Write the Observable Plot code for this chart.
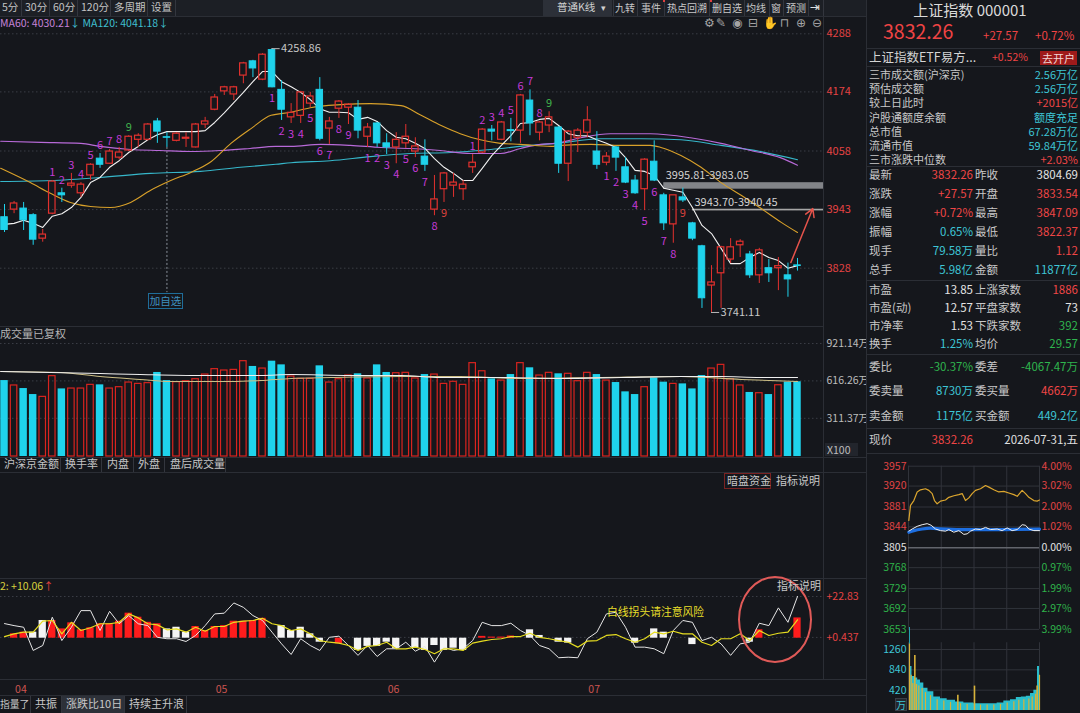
<!DOCTYPE html>
<html lang="zh-CN">
<head>
<meta charset="utf-8">
<title>上证指数 000001 日K</title>
<script src="https://cdn.jsdelivr.net/npm/d3@7"></script>
<script src="https://cdn.jsdelivr.net/npm/@observablehq/plot@0.6"></script>
<style>
html,body{margin:0;padding:0;background:#15171c;overflow:hidden;}
#root{position:relative;width:1080px;height:713px;overflow:hidden;background:#15171c;font-family:"Noto Sans CJK SC","Noto Sans",sans-serif;color:#c8c8c8;}
.a{position:absolute;white-space:nowrap;}
svg{display:block;overflow:visible;}
</style>
</head>
<body>
<div id="root"></div>
<script>
// ------------------------------------------------------------------ data
const candleOpen  = [3928,3943,3945,3932,3886,3935,3975,3990,3975,4010, 4043,4033,4045,4059,4080,4080,4116,4085,4078,4082, 4065,4110,4139,4175,4169,4206,4234,4198,4256,4178, 4124,4127,4151,4178,4102,4141,4143,4143,4086,4112, 4073,4065,4073,4057,4047,3943,3983,3990,3983,4026, 4055,4100,4080,4099,4098,4157,4094,4108,4104,4033, 4084,4094,4057,4035,4065,4026,4000,3983,4037,3971, 3914,3967,3916,3871,3794,3818,3845,3873,3855,3814, 3828,3828,3814,3833.54];
const candleHigh  = [3953,3959,3957,3935,3904,4000,3985,4014,3996,4033, 4053,4061,4065,4088,4092,4112,4122,4094,4094,4094, 4112,4124,4169,4185,4185,4232,4236,4249,4258.86,4196, 4151,4175,4173,4202,4124,4157,4151,4157,4112,4114, 4092,4094,4110,4084,4080,4010,4016,4014,4000,4051, 4102,4108,4116,4122,4169,4178,4116,4135,4106,4098, 4102,4145,4096,4055,4067,4045,4010,4043,4078,3975, 3971,3985,3918,3873,3833,3871,3886,3884,3861,3867, 3845,3849,3838,3847.09];
const candleLow   = [3898,3935,3902,3873,3879,3933,3957,3985,3967,4000, 4024,4032,4041,4057,4065,4078,4073,4065,4076,4065, 4064,4102,4137,4167,4157,4190,4202,4196,4182,4118, 4112,4112,4143,4078,4071,4122,4110,4082,4065,4065, 4051,4033,4063,4045,4018,3931,3957,3967,3961,4014, 4053,4078,4078,4076,4073,4088,4078,4094,4014,3998, 4055,4084,4022,4029,4018,3994,3973,3941,3998,3902, 3877,3957,3882,3749,3741.11,3749,3837,3849,3808,3798, 3800,3784,3771,3822.37];
const candleClose = [3903,3955,3922,3884,3894,3998,3971,3994,3992,4031, 4031,4057,4055,4086,4088,4110,4096,4084,4092,4084, 4110,4116,4163,4183,4183,4230,4220,4247,4183,4139, 4133,4173,4165,4082,4116,4155,4149,4098,4104,4073, 4065,4080,4086,4067,4031,3963,4014,3996,3992,4035, 4100,4096,4114,4097,4167,4112,4114,4124,4033,4096, 4098,4118,4031,4047,4045,3996,3975,4041,4000,3916, 3971,3961,3886,3769,3800,3869,3869,3880,3814,3863, 3818,3832,3806,3832.26];
const ma5 = [3914,3916,3922,3916,3908,3930,3935,3947,3967,3996, 4006,4026,4039,4055,4067,4080,4090,4096,4096,4096, 4096,4098,4114,4133,4153,4173,4194,4214,4214,4194, 4184,4173,4159,4141,4134,4134,4133,4120,4124,4116, 4098,4085,4082,4073,4063,4043,4026,4014,4000,4000, 4024,4049,4069,4088,4112,4114,4120,4122,4108,4092, 4088,4088,4080,4073,4065,4045,4020,4018,4010,3985, 3981,3977,3947,3912,3896,3867,3837,3837,3849,3859, 3849,3843,3828,3833];
const ma20Idx = [0.6,3.7,5.8,7.9,10,12.1,14.2,16.3,18.4,20.5,22.6,24.7,26.8,28.9,31,33,36.2,39.3,42.5,44.6,46.7,48.7,50.8,52.9,55,58.2,59.2,62.4,65.5,68.6,69.7,71.8,73.9,76,78.1,80.2,82.3,84];
const ma20Val = [4024,3996,3975,3957,3949,3947,3957,3981,4000,4016,4037,4073,4102,4128,4134,4143,4149,4151,4147,4128,4108,4092,4080,4073,4071,4067,4069,4071,4069,4069,4065,4049,4026,3996,3971,3945,3918,3898];
const ma60Idx = [0.6,4.8,9,11,14.2,17.3,20.5,23.6,26.7,29.4,31,34.1,37.2,40.4,43.5,46.6,49.8,52.9,55,57.1,58.7,61.3,64.4,68.6,72.8,76,79.1,82.2,84];
const ma60Val = [4077,4075,4073,4067,4061,4059,4057,4059,4063,4067,4067,4071,4069,4065,4063,4059,4053,4053,4063,4071,4073,4084,4092,4092,4084,4073,4059,4045,4030];
const ma120Idx = [0.6,5.8,11,16.3,21.5,25.7,29.4,31,35.1,39.3,43.5,47.7,51.9,56.1,58.7,63.4,67.6,71.8,76,80.1,84];
const ma120Val = [3998,4000,4006,4014,4018,4026,4032,4035,4039,4047,4053,4055,4061,4069,4073,4082,4082,4080,4069,4057,4041];
const priceTicks = [4288, 4174, 4058, 3943, 3828];

const volume = [619,579,554,505,486,655,551,554,554,584, 584,554,565,603,592,598,685,619,606,614, 630,668,712,701,706,777,734,717,777,747, 652,633,633,739,603,630,660,674,636,747, 685,679,682,636,668,668,592,609,584,761, 695,633,619,668,761,723,660,682,674,674, 614,682,668,619,603,527,505,565,641,606, 592,592,551,660,717,747,630,579,522,516, 505,581,606,609];
const volMaWhiteIdx = [0.6,11,15.2,21.5,27.8,31,37.2,42.5,46.6,52.9,59.2,65.5,71.8,76,80.1,84];
const volMaWhiteVal = [693,676,668,660,660,668,660,660,644,644,636,644,652,652,644,644];
const volMaBeigeIdx = [0.6,6.9,11,15.2,18.4,24.7,27.8,31,35.2,42.5,48.7,55,63.4,71.8,78.1,84];
const volMaBeigeVal = [693,685,652,628,611,611,619,636,644,652,652,636,644,652,628,611];
const volTicks = [921.14, 616.26, 311.37];

const ratioBar = [0,2.4,3.3,3.3,9.7,9.7,5.1,8.4,4.6,5.7, 7.9,7.9,9.3,13.7,11.5,8.7,7.9,5.1,6.0,3.3, 6.4,4.2,6.4,6.9,9.3,9.3,9.7,10.9,0,6.9, 4.2,6.0,2.4,-2.2,0,-3.1,0,-6.7,-4.5,-4.5, -2.2,-5.8,0,-5.2,-6.7,-4.0,-6.7,-5.5,-6.7,0, 1.0,0.6,0.6,1.2,0,4.6,1.5,0,-2.2,-2.7, 0,0,0,0,0,0,-2.7,0,5.1,3.3, 0,0,-3.5,0,0,0,0,0,-2.2,4.6, 0,0,0,11.1];
const ratioTone = ["w","r","r","w","w","r","r","r","r","r", "r","r","r","r","r","r","r","w","w","w", "r","r","r","r","r","r","r","r","w","w", "w","w","w","w","w","r","w","w","w","w", "w","w","w","w","w","w","w","w","w","w", "r","r","r","r","w","w","w","w","w","w", "w","w","w","w","w","w","w","w","w","w", "w","w","w","w","w","w","w","w","w","r", "w","w","w","r"];
const ratioWhite = [8.0,6.9,6.0,-6.7,-4.0,11.5,-1.3,6.0,15.1,15.1, 4.2,14.7,7.9,12.4,7.9,6.9,0.5,-0.3,-0.3,-1.8, 1.5,6.9,13.3,13.7,19.3,16.9,12.4,9.7,3.3,-3.1, -8.9,-0.3,-4.0,-6.7,0.5,1.1,-4.0,-9.4,-4.0,-10.0, -5.8,-5.8,-2.2,-7.1,-4.5,-13.1,-4.9,-6.7,-5.8,-1.3, 8.7,6.9,6.9,8.2,4.2,1.5,-4.0,-5.8,-10.7,-10.4, -10.7,-0.3,3.3,13.3,14.2,6.0,-4.9,-4.9,-5.8,-8.5, 4.2,9.7,8.7,-1.3,0.5,-3.1,-9.4,-3.1,-2.2,8.2, 6.9,16.6,8.7,22.83];
const ratioYellow = [0.9,2.4,3.3,3.3,9.3,9.7,2.4,8.7,4.2,5.7, 7.9,7.9,8.7,13.3,11.1,7.9,7.3,4.6,5.1,3.3, 6.0,3.8,6.4,6.4,8.7,9.3,9.7,10.9,7.9,6.9, 4.2,5.1,2.4,-1.3,-2.2,-2.7,-4.0,-6.7,-4.5,-4.0, -2.2,-5.8,-5.8,-4.9,-6.2,-8.5,-5.8,-5.8,-6.7,-2.7, -1.6,-0.7,-0.3,0.9,0.9,2.7,0.5,-0.3,-1.3,-2.2, -4.9,-1.6,-1.3,1.5,2.0,-0.3,-2.2,-0.3,3.3,2.4, 3.8,2.4,2.4,-2.2,-4.0,-0.3,-0.3,2.4,-1.3,4.2, 1.5,2.7,3.3,10.06];
const ratioTicks = [22.83, 0.437];
const monthLabels = ["04", "05", "06", "07"];
const monthStart = [2, 23, 41, 62];

const tdStart = [6, 29, 39, 50, 64];
const tdSide = ["above", "below", "below", "above", "below"];
const tdNineTone = ["#41b14c", "#c53bd8", "#d9423c", "#41b14c", "#d9423c"];
const extremeIdx = [29, 75];
const extremeVal = [4258.86, 3741.11];
const gapFrom = [70, 73];
const gapTop = [3995.81, 3943.70];
const gapBottom = [3983.05, 3940.45];

const miniMin   = [0.6,3.7,9.8,15.9,22,31.1,37.3,43.4,47.6,52.5,58.6,67.8,73.9,83.1,92.2,98.3,104.4,110.5,116.6,122.7,131.9,141.1,147.2,156.3,165.5,174.7,183.8,193,199.1,208.2,214.4,220.5,229.6,235.7,240];
const miniPrice = [3856,3884,3893,3909,3913,3915,3912,3906,3893,3887,3892,3894,3899,3902,3904,3906,3893,3898,3906,3912,3915,3921,3918,3913,3909,3910,3907,3904,3901,3912,3906,3899,3893,3892,3894];
const miniWhiteMin = [0.6,6.7,15.9,25,34.2,41.5,49.5,58.6,67.8,73.9,83.1,92.2,101.4,107.5,113.6,122.7,131.9,141.1,150.2,162.4,171.6,180.8,189.9,199.1,208.2,214.4,220.5,229.6,240];
const miniWhiteVal = [3836,3840,3845,3848,3850,3847,3840,3837,3836,3839,3834,3837,3830,3831,3836,3840,3839,3843,3839,3840,3837,3842,3837,3839,3848,3847,3840,3837,3837];
const miniBlueMin = [0.6,9.8,25,40.3,58.6,95.3,156.3,240];
const miniBlueVal = [3834,3837,3840,3841.5,3840.3,3839,3839,3839.7];
const miniVolMin = [1.8,4.9,7.9,11.6,14.7,18.9,25,31.1,40.3,52.5,64.7,77,90.4,95.3,107.5,120.9,131.9,144.1,156.3,168.5,180.8,193,202.1,211.3,220.5,226.6,232.7,235.7,240];
const miniVolVal = [1715,909,700,1134,672,630,567,462,385,280,245,210,315,175,154,504,140,140,140,154,196,224,266,280,294,350,420,504,910];
const miniVolTone = ["c","c","c","y","c","c","c","c","c","c","c","c","y","c","c","y","c","c","c","c","c","c","c","c","c","c","c","y","c"];
const miniPriceTicks = [3957, 3920, 3881, 3844, 3805, 3768, 3729, 3692, 3653];
const miniPctLabels = ["4.00%", "3.02%", "2.00%", "1.02%", "0.00%", "0.97%", "1.99%", "2.97%", "3.99%"];
const miniBase = 3805;
const miniVolTicks = [1260, 840, 420];
const miniGridMin = [0, 60, 120, 180, 240];

const quoteLabels = ["三市成交额(沪深京)", "预估成交额", "较上日此时", "沪股通额度余额", "总市值", "流通市值", "三市涨跌中位数"];
const quoteValues = ["2.56万亿", "2.56万亿", "+2015亿", "额度充足", "67.28万亿", "59.84万亿", "+2.03%"];
const quoteTones  = ["c", "c", "r", "c", "c", "c", "r"];
const pairA = [["最新","3832.26","r","昨收","3804.69","w"],["涨跌","+27.57","r","开盘","3833.54","r"],["涨幅","+0.72%","r","最高","3847.09","r"],["振幅","0.65%","c","最低","3822.37","r"],["现手","79.58万","c","量比","1.12","r"],["总手","5.98亿","c","金额","11877亿","c"]];
const pairB = [["市盈","13.85","w","上涨家数","1886","r"],["市盈(动)","12.57","w","平盘家数","73","w"],["市净率","1.53","w","下跌家数","392","g"],["换手","1.25%","c","均价","29.57","g"]];
const pairC = [["委比","-30.37%","g","委差","-4067.47万","g"],["委卖量","8730万","c","委买量","4662万","r"],["卖金额","1175亿","c","买金额","449.2亿","c"]];

// ------------------------------------------------------------------ setup
const FONT = '"Noto Sans CJK SC","Noto Sans",sans-serif';
const UP = "#e3312e";
const DOWN = "#1fd3ec";
const GRID = "#3a3d45";
const LINE = "#2b2e35";
const TONE = {r: "#ef4646", c: "#3ec6d6", g: "#2fb54e", w: "#e4e4e4"};
const xDomain = [0.58, 86.72];
const half = 0.34;
const root = document.getElementById("root");

function place(node, left, top, width) {
  const w = document.createElement("div");
  w.style.cssText = `position:absolute;left:${left}px;top:${top}px;width:${width}px;`;
  w.appendChild(node);
  root.appendChild(w);
}
function txt(s, x, y, o = {}) {
  const d = document.createElement("div");
  d.className = "a";
  d.textContent = s;
  const fs = o.size || 11;
  const lh = Math.round(fs * (o.lh || 1.3));
  d.style.fontSize = fs + "px";
  d.style.lineHeight = lh + "px";
  d.style.top = (y - lh / 2 - fs * 0.05 - (o.oy || 0)) + "px";
  const X = x - (o.ox || 0);
  if (o.anchor === "end") d.style.right = ((o.w || 1080) - X) + "px";
  else if (o.anchor === "middle") { d.style.left = X + "px"; d.style.transform = "translateX(-50%)"; }
  else d.style.left = X + "px";
  d.style.color = o.color || "#c8c8c8";
  if (o.font) d.style.fontFamily = o.font;
  (o.parent || root).appendChild(d);
  return d;
}
function rectDiv(x, y, w, h, css, parent) {
  const d = document.createElement("div");
  d.style.cssText = `position:absolute;left:${x}px;top:${y}px;width:${w}px;height:${h}px;${css}`;
  (parent || root).appendChild(d);
  return d;
}
const hline = (x, y, w, c = LINE) => rectDiv(x, y, w, 1, `background:${c};`);
const vline = (x, y, h, c = LINE) => rectDiv(x, y, 1, h, `background:${c};`);

const candles = candleOpen.map((o, k) => ({i: k + 1, o, h: candleHigh[k], l: candleLow[k], c: candleClose[k], v: volume[k], ma5: ma5[k]}));
const upC = candles.filter(d => d.c >= d.o);
const dnC = candles.filter(d => d.c < d.o);
const pts = (I, V) => I.map((i, k) => ({i, v: V[k]}));
const td = tdStart.flatMap((s, g) => d3.range(9).map(n => ({
  i: s + n, t: String(n + 1), side: tdSide[g], col: n === 8 ? tdNineTone[g] : "#c53bd8"
})));
const tdPos = d => d.side === "above" ? candles[d.i - 1].h : candles[d.i - 1].l;
const extremes = extremeIdx.map((i, k) => ({i, v: extremeVal[k]}));
const gaps = gapFrom.map((i, k) => ({i, top: gapTop[k], bottom: gapBottom[k]}));

// ------------------------------------------------------------------ K-line panel
const kPlot = Plot.plot({
  width: 862, height: 330, margin: 0,
  x: {domain: xDomain, range: [0, 823], axis: null},
  y: {domain: [3828, 4288], range: [267.7, 33.3], axis: null},
  color: {type: "identity"},
  style: {background: "transparent", fontFamily: FONT, overflow: "visible"},
  marks: [
    Plot.ruleY(priceTicks, {y: d => d, x1: xDomain[0], x2: xDomain[1], stroke: GRID, strokeDasharray: "1.5,2.5"}),
    Plot.ruleX([candles[17]], {x: "i", y1: "l", y2: 3780, stroke: "#8a9099", strokeDasharray: "2,2"}),
    Plot.rect(gaps, {x1: "i", x2: xDomain[1], y1: "bottom", y2: "top", fill: (d, k) => k === 0 ? "#828488" : "#a6a6a6"}),
    Plot.line(pts(ma120Idx, ma120Val), {x: "i", y: "v", stroke: "#36b7ca", strokeWidth: 1.1, curve: "monotone-x"}),
    Plot.line(pts(ma60Idx, ma60Val), {x: "i", y: "v", stroke: "#b86ad8", strokeWidth: 1.1, curve: "monotone-x"}),
    Plot.line(pts(ma20Idx, ma20Val), {x: "i", y: "v", stroke: "#d9a12a", strokeWidth: 1.1, curve: "monotone-x"}),
    Plot.line(candles, {x: "i", y: "ma5", stroke: "#f2f2f2", strokeWidth: 1.1}),
    Plot.ruleX(upC, {x: "i", y1: "h", y2: d => Math.max(d.o, d.c), stroke: UP}),
    Plot.ruleX(upC, {x: "i", y1: d => Math.min(d.o, d.c), y2: "l", stroke: UP}),
    Plot.ruleX(dnC, {x: "i", y1: "h", y2: "l", stroke: DOWN}),
    Plot.rect(upC, {x1: d => d.i - half, x2: d => d.i + half, y1: "o", y2: "c", fill: "none", stroke: UP, strokeWidth: 1.2}),
    Plot.rect(dnC, {x1: d => d.i - half, x2: d => d.i + half, y1: "o", y2: "c", fill: DOWN, stroke: DOWN}),
    Plot.text(td.filter(d => d.side === "above"), {x: "i", y: tdPos, text: "t", dy: -8, fill: "col", fontSize: 11}),
    Plot.text(td.filter(d => d.side === "below"), {x: "i", y: tdPos, text: "t", dy: 11, fill: "col", fontSize: 11}),
    Plot.ruleY(extremes, {y: "v", x1: "i", x2: d => d.i + 0.85, stroke: "#b8b8b8"}),
    Plot.text(extremes, {x: d => d.i + 0.95, y: "v", text: d => d.v.toFixed(2), textAnchor: "start", fill: "#c8c8c8", fontSize: 11}),
    Plot.text(gaps, {x: "i", y: "top", text: d => `${d.top.toFixed(2)}-${d.bottom.toFixed(2)}`, textAnchor: "start", dx: 2, dy: -7, fill: "#d2d2d2", fontSize: 11}),
    Plot.arrow([{i1: 83.3, v1: 3839, i2: 85.6, v2: 3945}], {x1: "i1", y1: "v1", x2: "i2", y2: "v2", stroke: "#e5534b", strokeWidth: 1.5, headLength: 9}),
    Plot.text(priceTicks, {x: xDomain[1], y: d => d, text: d => String(d), textAnchor: "start", dx: 3, fill: "#e54343", fontSize: 11})
  ]
});
place(kPlot, 0, 0, 862);

// ------------------------------------------------------------------ volume panel
const vPlot = Plot.plot({
  width: 862, height: 132, margin: 0,
  x: {domain: xDomain, range: [0, 823], axis: null},
  y: {domain: [0, 921.14], range: [130, 17], axis: null},
  style: {background: "transparent", fontFamily: FONT, overflow: "visible"},
  marks: [
    Plot.ruleY(volTicks, {y: d => d, x1: xDomain[0], x2: xDomain[1], stroke: GRID, strokeDasharray: "1.5,2.5"}),
    Plot.rect(upC, {x1: d => d.i - half, x2: d => d.i + half, y1: 0, y2: "v", fill: "none", stroke: "#d8241f", strokeWidth: 1.2}),
    Plot.rect(dnC, {x1: d => d.i - half - 0.05, x2: d => d.i + half + 0.05, y1: 0, y2: "v", fill: DOWN}),
    Plot.line(pts(volMaBeigeIdx, volMaBeigeVal), {x: "i", y: "v", stroke: "#cdbf86", strokeWidth: 1.1, curve: "monotone-x"}),
    Plot.line(pts(volMaWhiteIdx, volMaWhiteVal), {x: "i", y: "v", stroke: "#f0f0f0", strokeWidth: 1.1, curve: "monotone-x"}),
    Plot.text(volTicks, {x: xDomain[1], y: d => d, text: d => d.toFixed(2) + "万", textAnchor: "start", dx: 3, fill: "#bdbdbd", fontSize: 10.5})
  ]
});
place(vPlot, 0, 326, 862);

// ------------------------------------------------------------------ indicator panel
const ratio = ratioBar.map((v, k) => ({i: k + 1, v, tone: ratioTone[k], w: ratioWhite[k], y: ratioYellow[k]}));
const iPlot = Plot.plot({
  width: 862, height: 117, margin: 0,
  x: {domain: xDomain, range: [0, 823], axis: null},
  y: {domain: [0, 22.83], range: [59.7, 18], axis: null},
  style: {background: "transparent", fontFamily: FONT, overflow: "visible"},
  marks: [
    Plot.ruleY(ratioTicks, {y: d => d, x1: xDomain[0], x2: xDomain[1], stroke: GRID, strokeDasharray: "1.5,2.5"}),
    Plot.rect(ratio.filter(d => d.v !== 0 && d.tone === "r"), {x1: d => d.i - 0.38, x2: d => d.i + 0.38, y1: 0, y2: "v", fill: "#ff1c1c"}),
    Plot.rect(ratio.filter(d => d.v !== 0 && d.tone === "w"), {x1: d => d.i - 0.38, x2: d => d.i + 0.38, y1: 0, y2: "v", fill: "#f4f4f4"}),
    Plot.line(ratio, {x: "i", y: "w", stroke: "#e6e6e6", strokeWidth: 1}),
    Plot.line(ratio, {x: "i", y: "y", stroke: "#e6dd20", strokeWidth: 1.2}),
    Plot.text(ratioTicks, {x: xDomain[1], y: d => d, text: d => "+" + d, textAnchor: "start", dx: 3, fill: "#e54343", fontSize: 10.5}),
    Plot.text(monthLabels, {x: (d, k) => monthStart[k], text: d => d, frameAnchor: "bottom", lineAnchor: "bottom", textAnchor: "start", dx: 1, dy: -3, fill: "#cc5550", fontSize: 10.5})
  ]
});
place(iPlot, 0, 578, 862);

// ------------------------------------------------------------------ left chrome
hline(0, 16, 866);
hline(0, 326, 823);
hline(0, 457, 866);
hline(0, 472, 866);
hline(0, 578, 866);
hline(0, 679, 866);
hline(0, 695, 866);
vline(823, 16, 663);

// toolbar
rectDiv(0, 0, 866, 16, "background:#1c1f25;");
[["5分", 2], ["30分", 25], ["60分", 53], ["120分", 81], ["多周期", 114], ["设置", 151]].forEach(([s, x]) => txt(s, x, 8, {size: 10.5, color: "#c4c4c4", lh: 1.15}));
[21, 49, 77, 110, 147, 175].forEach(x => vline(x, 0, 16, "#33363e"));
rectDiv(543, 0, 69, 16, "background:#2c3038;");
txt("普通K线", 557, 8, {size: 10.5, color: "#d0d0d0", lh: 1.15});
txt("▾", 601, 8, {size: 9, color: "#d0d0d0", font: "DejaVu Sans", lh: 1.15});
[["九转", 615], ["事件", 641], ["热点回溯", 667], ["删自选", 712], ["均线", 746], ["窗", 771], ["预测", 786]].forEach(([s, x]) => txt(s, x, 8, {size: 10, color: "#c8c8c8", lh: 1.15}));
[613, 637, 664, 709, 744, 769, 783, 808, 823].forEach(x => vline(x, 0, 16, "#33363e"));
txt("⇥", 810, 8, {size: 12, color: "#e0e0e0", font: "DejaVu Sans", lh: 1.1});
rectDiv(663, 0, 2, 2, "background:#e04040;");
rectDiv(710, 0, 2, 2, "background:#e04040;");

// MA legend row
const maRow = txt("", 0, 24, {size: 10.5});
maRow.innerHTML = '<span style="color:#c583d8">MA60: 4030.21</span><span style="color:#43c4d4">↓</span> <span style="color:#3fbfcf">MA120: 4041.18↓</span>';
[["⚙", 704], ["✎", 716], ["◉", 732], ["⊟", 748], ["✋", 763], ["⊓", 780], ["⊕", 796], ["⊖", 812]].forEach(([s, x]) => txt(s, x, 24, {size: 12, color: "#a4a4a4", font: "DejaVu Sans"}));

// 加自选
const addBox = rectDiv(148, 293, 35, 16, "border:1px solid #1f6d99;box-sizing:border-box;color:#3f91c0;font-size:10.5px;line-height:14px;text-align:center;");
addBox.textContent = "加自选";

// volume panel chrome
txt("成交量已复权", 0, 334, {size: 11, color: "#b4b4b4"});
const x100 = rectDiv(825, 443, 33, 13, "background:#22252c;color:#bdbdbd;font-size:10.5px;line-height:13px;padding-left:2px;box-sizing:border-box;");
x100.textContent = "X100";
[["沪深京金额", 4], ["换手率", 65], ["内盘", 107], ["外盘", 138], ["盘后成交量", 170]].forEach(([s, x]) => txt(s, x, 464.5, {size: 11, color: "#c4c4c4", lh: 1.2}));
[60, 101, 133, 164, 225].forEach(x => vline(x, 457, 15, "#33363e"));
rectDiv(724, 473, 47, 16, "border:1px solid #7a2222;box-sizing:border-box;");
txt("暗盘资金", 727, 481, {size: 11, color: "#c8c8c8", lh: 1.2});
txt("指标说明", 776, 481, {size: 11, color: "#c8c8c8", lh: 1.2});

// indicator chrome
const indHead = txt("", 0, 587, {size: 10.5});
indHead.innerHTML = '<span style="color:#d8d13c">2: +10.06</span><span style="color:#e04040">↑</span>';
txt("白线拐头请注意风险", 607, 612, {size: 10.8, color: "#e8df2a"});
rectDiv(738, 576, 74, 87, "border:2.5px solid #e05a58;border-radius:50%;box-sizing:border-box;");
txt("指标说明", 777, 586, {size: 11, color: "#c8c8c8", lh: 1.2});

// bottom tabs
rectDiv(61, 696, 63, 17, "background:#2d3139;");
[["指量了", 0, 9.8], ["共振", 35, 11], ["涨跌比10日", 66, 11], ["持续主升浪", 129, 11]].forEach(([s, x, fs]) => txt(s, x, 704.5, {size: fs, color: "#c8c8c8", lh: 1.2}));
[30, 61, 124, 186].forEach(x => vline(x, 696, 17, "#33363e"));

// ------------------------------------------------------------------ right panel
rectDiv(866, 0, 214, 713, "background:#15171c;border-left:1px solid #2b2e35;box-sizing:border-box;");
txt("上证指数 000001", 970, 10.5, {size: 15, color: "#dadada", anchor: "middle", lh: 1.1});
txt("3832.26", 883, 31.5, {size: 19.5, color: "#ef4444", lh: 1.0});
txt("+27.57", 983, 36, {size: 11.5, color: "#ef4444", lh: 1.1});
txt("+0.72%", 1035, 36, {size: 11.5, color: "#ef4444", lh: 1.1});
hline(866, 48, 214);
txt("上证指数ETF易方...", 869, 58, {size: 12.5, color: "#d4d4d4", lh: 1.15});
txt("+0.52%", 992, 58, {size: 10.5, color: "#ef4444", lh: 1.15});
const kaihu = rectDiv(1040, 51, 37, 14, "background:#9e1a1a;color:#f2d6d6;font-size:11px;line-height:14px;text-align:center;");
kaihu.textContent = "去开户";
hline(866, 66, 214);

const clip = rectDiv(867, 67, 213, 99, "overflow:hidden;");
quoteLabels.forEach((s, k) => {
  const y = 75 + k * 14.2;
  txt(s, 869, y, {size: 11, color: "#c8c8c8", parent: clip, ox: 867, oy: 67, lh: 1.2});
  txt(quoteValues[k], 1078, y, {size: 11, color: TONE[quoteTones[k]], parent: clip, ox: 867, oy: 67, anchor: "end", w: 213, lh: 1.2});
});
hline(866, 166, 214);

function pairRows(rows, y0, step) {
  rows.forEach((r, k) => {
    const y = y0 + k * step;
    txt(r[0], 869, y, {size: 11.5, color: "#c8c8c8"});
    txt(r[1], 973, y, {size: 11.5, color: TONE[r[2]], anchor: "end"});
    txt(r[3], 975, y, {size: 11.5, color: "#c8c8c8"});
    txt(r[4], 1078, y, {size: 11.5, color: TONE[r[5]], anchor: "end"});
  });
}
pairRows(pairA, 175, 19);
hline(866, 280, 214);
pairRows(pairB, 290, 18);
hline(866, 354, 214);
pairRows(pairC, 367, 24.5);
hline(866, 428, 214);
txt("现价", 869, 440, {size: 11.5, color: "#c8c8c8"});
txt("3832.26", 973, 440, {size: 11.5, color: TONE.r, anchor: "end"});
txt("2026-07-31,五", 1078, 440, {size: 11.5, color: "#e0e0e0", anchor: "end"});
hline(866, 453, 214);

// ------------------------------------------------------------------ intraday mini chart
const tickTone = p => p > miniBase ? "#e04444" : p < miniBase ? "#2fb24a" : "#e4e4e4";
const miniTicks = miniPriceTicks.map((p, k) => ({p, pct: miniPctLabels[k]}));
const mPlot = Plot.plot({
  width: 220, height: 180, margin: 0,
  x: {domain: [0, 240], range: [48, 179], axis: null},
  y: {domain: [3805, 3957], range: [92.3, 10.7], axis: null},
  color: {type: "identity"},
  style: {background: "transparent", fontFamily: FONT, overflow: "visible"},
  marks: [
    Plot.ruleY(miniTicks.filter(d => d.p !== miniBase), {y: "p", x1: 0, x2: 240, stroke: "#30333a"}),
    Plot.ruleX(miniGridMin, {x: d => d, y1: 3957, y2: 3653, stroke: "#30333a"}),
    Plot.ruleY([miniBase], {y: d => d, x1: 0, x2: 240, stroke: "#62656c", strokeWidth: 1.5}),
    Plot.line(pts(miniMin, miniPrice), {x: "i", y: "v", stroke: "#dca62e", strokeWidth: 1.2}),
    Plot.line(pts(miniBlueMin, miniBlueVal), {x: "i", y: "v", stroke: "#1d6ee0", strokeWidth: 3.2, curve: "monotone-x"}),
    Plot.line(pts(miniWhiteMin, miniWhiteVal), {x: "i", y: "v", stroke: "#f2f2f2", strokeWidth: 1}),
    Plot.text(miniTicks, {x: 0, y: "p", text: d => String(d.p), textAnchor: "end", dx: -2, fill: d => tickTone(d.p), fontSize: 10.5}),
    Plot.text(miniTicks, {x: 240, y: "p", text: "pct", textAnchor: "start", dx: 2, fill: d => tickTone(d.p), fontSize: 10.5})
  ]
});
place(mPlot, 860, 455, 220);

const mVol = miniVolMin.map((m, k) => ({m, v: miniVolVal[k], tone: miniVolTone[k]}));
const mvPlot = Plot.plot({
  width: 220, height: 77, margin: 0,
  x: {domain: [0, 240], range: [48, 179], axis: null},
  y: {domain: [0, 1260], range: [74, 13], axis: null},
  style: {background: "transparent", fontFamily: FONT, overflow: "visible"},
  marks: [
    Plot.ruleY(miniVolTicks, {y: d => d, x1: 0, x2: 240, stroke: "#30333a"}),
    Plot.ruleX(miniGridMin, {x: d => d, y1: 1400, y2: 0, stroke: "#30333a"}),
    Plot.areaY(mVol.filter(d => d.tone === "c"), {x: "m", y: "v", fill: "#2ccfe0", fillOpacity: 0.9, curve: "step"}),
    Plot.ruleX(mVol.filter(d => d.tone === "c"), {x: "m", y1: 0, y2: d => d.v * 0.8, stroke: "#d8b23a", strokeWidth: 1.2}),
    Plot.ruleX(mVol.filter(d => d.tone === "y"), {x: "m", y1: 0, y2: "v", stroke: "#d8b23a", strokeWidth: 1.6}),
    Plot.text(miniVolTicks, {x: 0, y: d => d, text: d => String(d), textAnchor: "end", dx: -2, fill: "#3ec6d6", fontSize: 10.5})
  ]
});
place(mvPlot, 860, 636, 220);
const wan = rectDiv(895, 698, 12, 13, "background:#23272e;border:1px solid #3a3e46;box-sizing:border-box;color:#3ec6d6;font-size:10px;line-height:11px;text-align:center;");
wan.textContent = "万";
</script>
</body>
</html>
